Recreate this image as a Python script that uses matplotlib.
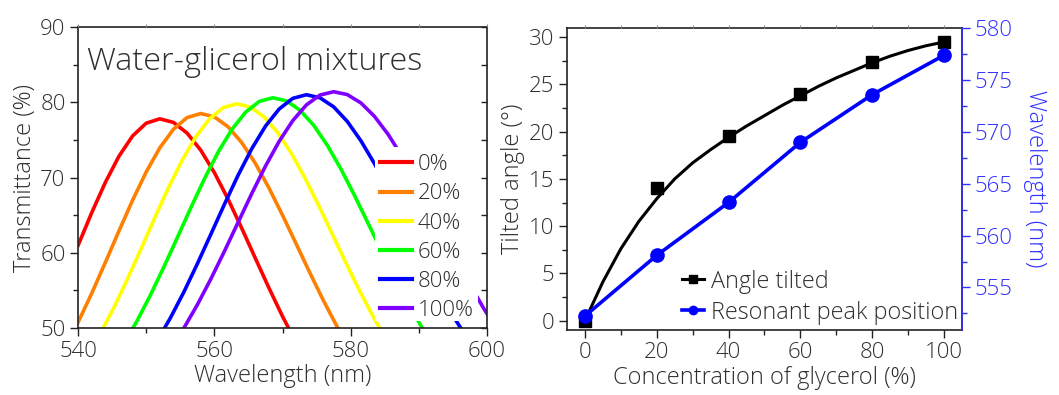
import matplotlib
matplotlib.use("Agg")
import matplotlib.pyplot as plt
from matplotlib.lines import Line2D
from matplotlib.patches import Rectangle
from matplotlib.ticker import MultipleLocator

plt.rcParams['font.family'] = ['Open Sans', 'DejaVu Sans']
plt.rcParams['font.weight'] = 'light'
plt.rcParams['axes.labelweight'] = 'light'
TXT = '#2e2e2e'
BLUE = '#3030FF'

# left panel: transmittance spectra
labels = ['0%', '20%', '40%', '60%', '80%', '100%']
colors = ['#FF0000', '#FF8000', '#FFFF00', '#00FF00', '#0000FF', '#8000FF']

wl_0 = [540, 542, 544, 546, 548, 550, 552, 554, 556, 558, 560, 562, 564, 566, 568, 570, 572]
tr_0 = [60.97, 65.31, 69.34, 72.83, 75.52, 77.22, 77.8, 77.32, 75.9, 73.63, 70.65, 67.14,
        63.29, 59.29, 55.33, 51.54, 48.06]

wl_20 = [540, 542, 544, 546, 548, 550, 552, 554, 556, 558, 560, 562, 564, 566, 568, 570,
         572, 574, 576, 578, 580]
tr_20 = [50.75, 54.6, 58.7, 62.89, 66.98, 70.74, 73.95, 76.42, 77.97, 78.5, 78.06, 76.75,
         74.66, 71.9, 68.62, 64.99, 61.18, 57.35, 53.65, 50.19, 47.05]

wl_40 = [541.3, 543.3, 545.3, 547.3, 549.3, 551.3, 553.3, 555.3, 557.3, 559.3, 561.3, 563.3,
         565.3, 567.3, 569.3, 571.3, 573.3, 575.3, 577.3, 579.3, 581.3, 583.3, 585.3]
tr_40 = [46.25, 49.32, 52.79, 56.61, 60.64, 64.74, 68.71, 72.34, 75.44, 77.81, 79.29, 79.8,
         79.36, 78.05, 75.96, 73.2, 69.92, 66.29, 62.48, 58.65, 54.95, 51.49, 48.35]

wl_60 = [546.6, 548.6, 550.6, 552.6, 554.6, 556.6, 558.6, 560.6, 562.6, 564.6, 566.6, 568.6,
         570.6, 572.6, 574.6, 576.6, 578.6, 580.6, 582.6, 584.6, 586.6, 588.6, 590.6, 592.6]
tr_60 = [47.76, 50.86, 54.34, 58.13, 62.09, 66.09, 69.94, 73.45, 76.43, 78.7, 80.12, 80.6,
         80.17, 78.92, 76.9, 74.24, 71.07, 67.54, 63.82, 60.07, 56.41, 52.97, 49.83, 47.03]

wl_80 = [549.5, 551.5, 553.5, 555.5, 557.5, 559.5, 561.5, 563.5, 565.5, 567.5, 569.5, 571.5,
         573.5, 575.5, 577.5, 579.5, 581.5, 583.5, 585.5, 587.5, 589.5, 591.5, 593.5, 595.5, 597.5]
tr_80 = [45.48, 48.16, 51.26, 54.74, 58.53, 62.49, 66.49, 70.34, 73.85, 76.83, 79.1, 80.52,
         81.0, 80.59, 79.39, 77.45, 74.88, 71.82, 68.4, 64.77, 61.09, 57.48, 54.06, 50.91, 48.08]

wl_100 = [553.5, 555.5, 557.5, 559.5, 561.5, 563.5, 565.5, 567.5, 569.5, 571.5, 573.5, 575.5,
          577.5, 579.5, 581.5, 583.5, 585.5, 587.5, 589.5, 591.5, 593.5, 595.5, 597.5, 599.5, 601.5]
tr_100 = [47.19, 49.95, 53.09, 56.55, 60.25, 64.08, 67.89, 71.52, 74.8, 77.56, 79.65, 80.96,
          81.4, 81.02, 79.91, 78.11, 75.72, 72.85, 69.61, 66.17, 62.63, 59.13, 55.76, 52.62, 49.76]

spectra = [(wl_0, tr_0), (wl_20, tr_20), (wl_40, tr_40), (wl_60, tr_60), (wl_80, tr_80), (wl_100, tr_100)]

# right panel
conc = [0, 20, 40, 60, 80, 100]
angle = [0.0, 14.0, 19.5, 24.0, 27.4, 29.5]
peak_wl = [552.25, 558.1, 563.2, 569.0, 573.6, 577.4]
fit_x = [0, 5, 10, 15, 20, 25, 30, 35, 40, 45, 50, 55, 60, 65, 70, 75, 80, 85, 90, 95, 100]
fit_y = [0.0, 4.1, 7.6, 10.5, 12.9, 15.0, 16.7, 18.1, 19.4, 20.6, 21.7, 22.8, 23.8, 24.8,
         25.7, 26.5, 27.3, 28.0, 28.6, 29.1, 29.5]

TICK_FS = 16
LAB_FS = 17


def style_ticks(ax, color='#222222', labelcolor=TXT):
    ax.tick_params(which='both', direction='out', colors=color, labelcolor=labelcolor,
                   labelsize=TICK_FS, width=1)
    ax.tick_params(which='major', length=6, pad=3)
    ax.tick_params(which='minor', length=3.5)


fig = plt.figure(figsize=(10.59, 3.95), dpi=100)

# ---------- left panel ----------
ax1 = fig.add_axes([0.0737, 0.1696, 0.3862, 0.762])
for (x, y), c, lab in zip(spectra, colors, labels):
    ax1.plot(x, y, color=c, lw=2.6, label=lab, zorder=2)
ax1.set_xlim(540, 600)
ax1.set_ylim(50, 90)
ax1.xaxis.set_major_locator(MultipleLocator(20))
ax1.xaxis.set_minor_locator(MultipleLocator(10))
ax1.yaxis.set_major_locator(MultipleLocator(10))
ax1.yaxis.set_minor_locator(MultipleLocator(5))
style_ticks(ax1)
for sp in ax1.spines.values():
    sp.set_linewidth(1.2)
    sp.set_color('#222222')
ax1.set_xlabel('Wavelength (nm)', fontsize=LAB_FS, color=TXT, labelpad=2)
ax1.set_ylabel('Transmittance (%)', fontsize=LAB_FS, color=TXT, labelpad=2)
ax1.text(0.022, 0.857, 'Water-glicerol mixtures', transform=ax1.transAxes,
         fontsize=23.3, color=TXT, va='baseline', ha='left')

# mirror ticks: right side inward, top tiny outward
ax1r = ax1.twinx()
ax1r.set_ylim(ax1.get_ylim())
ax1r.yaxis.set_major_locator(MultipleLocator(10))
ax1r.yaxis.set_minor_locator(MultipleLocator(5))
ax1r.tick_params(which='both', direction='in', length=4, width=1, colors='#222222',
                 labelright=False)
ax1t = ax1.twiny()
ax1t.set_xlim(ax1.get_xlim())
ax1t.xaxis.set_major_locator(MultipleLocator(10))
ax1t.xaxis.set_minor_locator(MultipleLocator(10))
ax1t.tick_params(which='both', direction='out', length=2, width=0.8, colors='#888888',
                 labeltop=False)
for a in (ax1r, ax1t):
    for sp in a.spines.values():
        sp.set_visible(False)

# white patch behind the legend, hides the curves there
ax1.add_patch(Rectangle((583.6, 50.9), 15.1, 23.1, facecolor='white',
                        edgecolor='none', zorder=3))
leg1 = ax1.legend(loc='center left', bbox_to_anchor=(0.738, 0.30), frameon=False,
                  fontsize=16, handlelength=1.45, handletextpad=0.25,
                  labelspacing=0.37, borderpad=0, borderaxespad=0)
leg1.set_zorder(5)
for t in leg1.get_texts():
    t.set_color(TXT)
for h in leg1.get_lines():
    h.set_linewidth(3)

# ---------- right panel ----------
ax2 = fig.add_axes([0.5354, 0.1646, 0.373, 0.7638])
ax3 = ax2.twinx()
ax2.plot(fit_x, fit_y, color='black', lw=2.2, zorder=2)
ax2.plot(conc, angle, ls='none', marker='s', ms=9, color='black', zorder=3)
ax3.plot(conc, peak_wl, color='#0000FF', lw=2.6, marker='o', ms=9.5, zorder=4)

ax2.set_xlim(-5, 105)
ax2.set_ylim(-1, 30.95)
ax3.set_ylim(550.9, 580)
ax2.xaxis.set_major_locator(MultipleLocator(20))
ax2.xaxis.set_minor_locator(MultipleLocator(10))
ax2.yaxis.set_major_locator(MultipleLocator(5))
ax2.yaxis.set_minor_locator(MultipleLocator(2.5))
ax3.yaxis.set_major_locator(MultipleLocator(5))
ax3.yaxis.set_minor_locator(MultipleLocator(2.5))
style_ticks(ax2)
style_ticks(ax3, color=BLUE, labelcolor=BLUE)
for sp in ax2.spines.values():
    sp.set_linewidth(1.2)
    sp.set_color('#222222')
for name in ['left', 'top', 'bottom']:
    ax3.spines[name].set_visible(False)
ax3.spines['right'].set_color(BLUE)
ax3.spines['right'].set_linewidth(1.2)
ax2.set_xlabel('Concentration of glycerol (%)', fontsize=LAB_FS, color=TXT, labelpad=2)
ax2.set_ylabel('Tilted angle (°)', fontsize=LAB_FS, color=TXT, labelpad=3)
ax3.set_ylabel('Wavelength (nm)', fontsize=LAB_FS, color=BLUE, rotation=270, labelpad=25)

ax2t = ax2.twiny()
ax2t.set_xlim(ax2.get_xlim())
ax2t.xaxis.set_major_locator(MultipleLocator(10))
ax2t.tick_params(which='both', direction='out', length=2, width=0.8, colors='#888888',
                 labeltop=False)
for sp in ax2t.spines.values():
    sp.set_visible(False)

handles = [Line2D([], [], color='black', lw=2.2, marker='s', ms=5.5),
           Line2D([], [], color='#0000FF', lw=2.6, marker='o', ms=6)]
leg2 = ax3.legend(handles, ['Angle tilted', 'Resonant peak position'],
                  loc='center left', bbox_to_anchor=(0.291, 0.109), frameon=False,
                  fontsize=16.8, handlelength=0.95, handletextpad=0.3,
                  labelspacing=0.3, borderpad=0, borderaxespad=0)
for t in leg2.get_texts():
    t.set_color(TXT)

fig.savefig('out.png', dpi=100)
